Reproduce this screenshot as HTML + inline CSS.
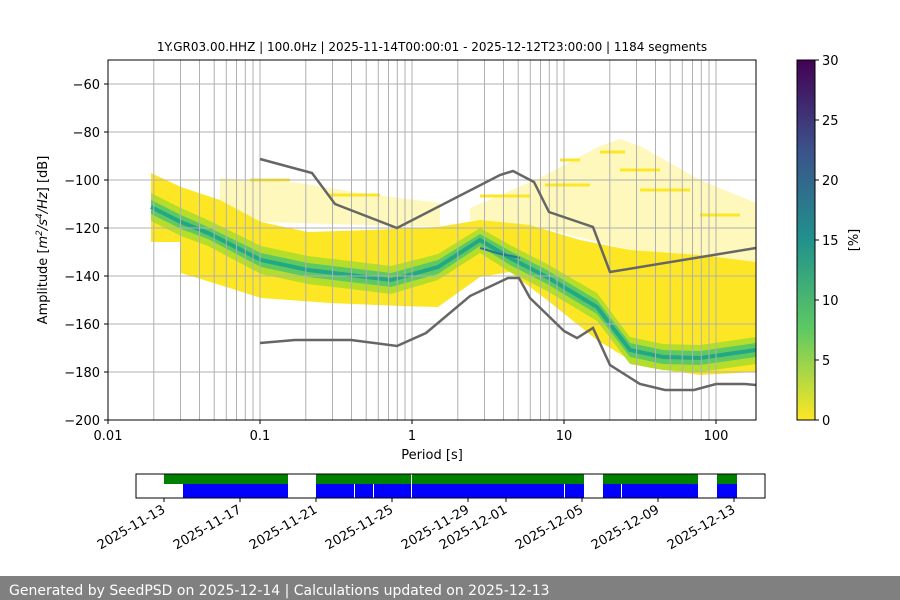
<!DOCTYPE html>
<html><head><meta charset="utf-8"><style>
body{margin:0;background:#fff;}
svg{display:block;font-family:"DejaVu Sans","Liberation Sans",sans-serif;}
</style></head><body>
<svg width="900" height="600" viewBox="0 0 900 600" xmlns="http://www.w3.org/2000/svg">
<defs>
<linearGradient id="vir" x1="0" y1="1" x2="0" y2="0">
<stop offset="0" stop-color="#fde725"/><stop offset="0.25" stop-color="#5ec962"/><stop offset="0.5" stop-color="#21918c"/><stop offset="0.75" stop-color="#3b528b"/><stop offset="1" stop-color="#440154"/>
</linearGradient>
<clipPath id="ax"><rect x="108" y="60" width="648" height="360"/></clipPath>
</defs>
<text x="432" y="51" font-size="12" text-anchor="middle">1Y.GR03.00.HHZ | 100.0Hz | 2025-11-14T00:00:01 - 2025-12-12T23:00:00 | 1184 segments</text>
<g clip-path="url(#ax)">
<polygon fill="#fde725" opacity="0.3" points="220,178 300,183 360,193 440,203 440,227 261,222 220,200"/>
<polygon fill="#fde725" opacity="0.3" points="470,208 540,178 600,146 620,139 640,146 700,180 756,203 756,262 630,250 530,225 470,220"/>
<polygon fill="#fde725" points="151,173 181,187 220,200 261,222 308,232 370,230 438,227 480,220 530,225 580,240 630,250 700,255 756,262 756,372 700,375 650,368 630,360 597,340 547,300 510,272 480,277 438,307 400,306 330,303 261,298 220,285 181,273 181,242 151,242"/>
<polygon fill="#b5de2b" points="151,193 181,208 208,220 261,246 308,256 350,261 391,266 438,254 480,228 510,245 547,264 597,293 630,337 663,344 700,345 756,337 756,364 700,372 663,370 630,364 597,321 547,291 510,272 480,253 438,280 391,294 350,289 308,284 261,274 208,246 181,236 151,221"/>
<polygon fill="#5ec962" points="151,200 181,215 208,227 261,253 308,263 350,268 391,273 438,260 480,234 510,251 547,270 597,300 630,343 663,350 700,351 756,343 756,357 700,365 663,364 630,357 597,314 547,284 510,265 480,246 438,274 391,287 350,282 308,277 261,267 208,239 181,229 151,214"/>
<polyline fill="none" stroke="#22a884" stroke-width="4" points="151,207 181,222 208,233 261,260 308,270 350,275 391,280 438,267 480,240 510,258 547,277 597,307 630,350 663,357 700,358 756,350"/>
<polyline fill="none" stroke="#2a788e" stroke-width="2" points="480,248 500,254 512,256 520,258"/>
<g stroke="#fde725" stroke-width="3">
<line x1="560" y1="160" x2="580" y2="160"/><line x1="600" y1="152" x2="625" y2="152"/><line x1="620" y1="170" x2="660" y2="170"/><line x1="545" y1="185" x2="590" y2="185"/><line x1="640" y1="190" x2="690" y2="190"/><line x1="480" y1="196" x2="530" y2="196"/><line x1="700" y1="215" x2="740" y2="215"/><line x1="250" y1="180" x2="290" y2="180"/><line x1="330" y1="195" x2="380" y2="195"/>
</g>
<g stroke="#b0b0b0" stroke-width="1">
<line x1="108" y1="84" x2="756" y2="84"/><line x1="108" y1="132" x2="756" y2="132"/><line x1="108" y1="180" x2="756" y2="180"/><line x1="108" y1="228" x2="756" y2="228"/><line x1="108" y1="276" x2="756" y2="276"/><line x1="108" y1="324" x2="756" y2="324"/><line x1="108" y1="372" x2="756" y2="372"/>
<line x1="153.8" y1="60" x2="153.8" y2="420"/><line x1="180.5" y1="60" x2="180.5" y2="420"/><line x1="199.5" y1="60" x2="199.5" y2="420"/><line x1="214.2" y1="60" x2="214.2" y2="420"/><line x1="226.3" y1="60" x2="226.3" y2="420"/><line x1="236.5" y1="60" x2="236.5" y2="420"/><line x1="245.3" y1="60" x2="245.3" y2="420"/><line x1="253" y1="60" x2="253" y2="420"/><line x1="260" y1="60" x2="260" y2="420"/>
<line x1="305.8" y1="60" x2="305.8" y2="420"/><line x1="332.5" y1="60" x2="332.5" y2="420"/><line x1="351.5" y1="60" x2="351.5" y2="420"/><line x1="366.2" y1="60" x2="366.2" y2="420"/><line x1="378.3" y1="60" x2="378.3" y2="420"/><line x1="388.5" y1="60" x2="388.5" y2="420"/><line x1="397.3" y1="60" x2="397.3" y2="420"/><line x1="405" y1="60" x2="405" y2="420"/><line x1="412" y1="60" x2="412" y2="420"/>
<line x1="457.8" y1="60" x2="457.8" y2="420"/><line x1="484.5" y1="60" x2="484.5" y2="420"/><line x1="503.5" y1="60" x2="503.5" y2="420"/><line x1="518.2" y1="60" x2="518.2" y2="420"/><line x1="530.3" y1="60" x2="530.3" y2="420"/><line x1="540.5" y1="60" x2="540.5" y2="420"/><line x1="549.3" y1="60" x2="549.3" y2="420"/><line x1="557" y1="60" x2="557" y2="420"/><line x1="564" y1="60" x2="564" y2="420"/>
<line x1="609.8" y1="60" x2="609.8" y2="420"/><line x1="636.5" y1="60" x2="636.5" y2="420"/><line x1="655.5" y1="60" x2="655.5" y2="420"/><line x1="670.2" y1="60" x2="670.2" y2="420"/><line x1="682.3" y1="60" x2="682.3" y2="420"/><line x1="692.5" y1="60" x2="692.5" y2="420"/><line x1="701.3" y1="60" x2="701.3" y2="420"/><line x1="709" y1="60" x2="709" y2="420"/><line x1="716" y1="60" x2="716" y2="420"/>
</g>
<polyline fill="none" stroke="#666" stroke-width="2.5" points="260,159 312,173 335,204 397,228 500,175 513,171 534,182 549,212 593,227 610,272 756,248"/>
<polyline fill="none" stroke="#666" stroke-width="2.5" points="260,343 295,340 351,340 397,346 426,333 470,296 508,278 519,278 530,298 564,331 577,338 593,328 610,365 640,384 665,390 694,390 716,384 745,384 756,385"/>
</g>
<rect x="108" y="60" width="648" height="360" fill="none" stroke="#000" stroke-width="1"/>
<g stroke="#000"><line x1="104" y1="84" x2="108" y2="84"/><line x1="104" y1="132" x2="108" y2="132"/><line x1="104" y1="180" x2="108" y2="180"/><line x1="104" y1="228" x2="108" y2="228"/><line x1="104" y1="276" x2="108" y2="276"/><line x1="104" y1="324" x2="108" y2="324"/><line x1="104" y1="372" x2="108" y2="372"/><line x1="104" y1="420" x2="108" y2="420"/>
<line x1="108" y1="420" x2="108" y2="424"/><line x1="260" y1="420" x2="260" y2="424"/><line x1="412" y1="420" x2="412" y2="424"/><line x1="564" y1="420" x2="564" y2="424"/><line x1="716" y1="420" x2="716" y2="424"/></g>
<g font-size="13" text-anchor="end">
<text x="100" y="89">−60</text><text x="100" y="137">−80</text><text x="100" y="185">−100</text><text x="100" y="233">−120</text><text x="100" y="281">−140</text><text x="100" y="329">−160</text><text x="100" y="377">−180</text><text x="100" y="425">−200</text></g>
<g font-size="13" text-anchor="middle">
<text x="108" y="440">0.01</text><text x="260" y="440">0.1</text><text x="412" y="440">1</text><text x="564" y="440">10</text><text x="716" y="440">100</text>
<text x="432" y="459">Period [s]</text></g>
<text transform="translate(47,240) rotate(-90)" font-size="13" text-anchor="middle">Amplitude [<tspan font-style="italic">m</tspan><tspan font-size="9" dy="-5" font-style="italic">2</tspan><tspan dy="5" font-style="italic">/s</tspan><tspan font-size="9" dy="-5" font-style="italic">4</tspan><tspan dy="5" font-style="italic">/Hz</tspan>] [dB]</text>
<rect x="797" y="60" width="18" height="360" fill="url(#vir)"/>
<rect x="797" y="60" width="18" height="360" fill="none" stroke="#000"/>
<g stroke="#000"><line x1="815" y1="60" x2="819" y2="60"/><line x1="815" y1="120" x2="819" y2="120"/><line x1="815" y1="180" x2="819" y2="180"/><line x1="815" y1="240" x2="819" y2="240"/><line x1="815" y1="300" x2="819" y2="300"/><line x1="815" y1="360" x2="819" y2="360"/><line x1="815" y1="420" x2="819" y2="420"/></g>
<g font-size="13"><text x="822" y="65">30</text><text x="822" y="125">25</text><text x="822" y="185">20</text><text x="822" y="245">15</text><text x="822" y="305">10</text><text x="822" y="365">5</text><text x="822" y="425">0</text></g>
<text transform="translate(858,240) rotate(-90)" font-size="13" text-anchor="middle">[%]</text>
<g>
<rect x="164" y="474" width="124" height="10" fill="#008000"/><rect x="316" y="474" width="268" height="10" fill="#008000"/><rect x="603" y="474" width="95" height="10" fill="#008000"/><rect x="717" y="474" width="20" height="10" fill="#008000"/>
<rect x="183" y="484" width="105" height="14" fill="#0000ff"/><rect x="316" y="484" width="268" height="14" fill="#0000ff"/><rect x="603" y="484" width="95" height="14" fill="#0000ff"/><rect x="717" y="484" width="20" height="14" fill="#0000ff"/>
<g stroke="#fff" stroke-width="1"><line x1="354.5" y1="484" x2="354.5" y2="498"/><line x1="373.5" y1="484" x2="373.5" y2="498"/><line x1="411.5" y1="474" x2="411.5" y2="498"/><line x1="564.5" y1="484" x2="564.5" y2="498"/><line x1="621.5" y1="484" x2="621.5" y2="498"/></g>
<rect x="136" y="474" width="629" height="24" fill="none" stroke="#000"/>
<g stroke="#000"><line x1="164" y1="498" x2="164" y2="502"/><line x1="240" y1="498" x2="240" y2="502"/><line x1="316" y1="498" x2="316" y2="502"/><line x1="392" y1="498" x2="392" y2="502"/><line x1="468" y1="498" x2="468" y2="502"/><line x1="506" y1="498" x2="506" y2="502"/><line x1="582" y1="498" x2="582" y2="502"/><line x1="658" y1="498" x2="658" y2="502"/><line x1="734" y1="498" x2="734" y2="502"/></g>
<g font-size="13" text-anchor="end">
<text transform="translate(166,512) rotate(-30)">2025-11-13</text><text transform="translate(242,512) rotate(-30)">2025-11-17</text><text transform="translate(318,512) rotate(-30)">2025-11-21</text><text transform="translate(394,512) rotate(-30)">2025-11-25</text><text transform="translate(470,512) rotate(-30)">2025-11-29</text><text transform="translate(508,512) rotate(-30)">2025-12-01</text><text transform="translate(584,512) rotate(-30)">2025-12-05</text><text transform="translate(660,512) rotate(-30)">2025-12-09</text><text transform="translate(736,512) rotate(-30)">2025-12-13</text></g>
</g>
<rect x="0" y="576" width="900" height="24" fill="#808080"/>
<text x="9" y="595" font-size="14" fill="#fff">Generated by SeedPSD on 2025-12-14 | Calculations updated on 2025-12-13</text>
</svg>
</body></html>
